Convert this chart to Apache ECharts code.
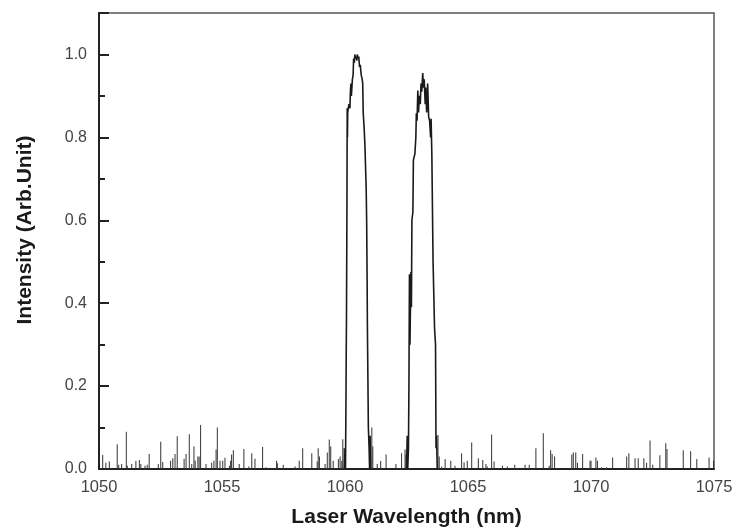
<!DOCTYPE html>
<html>
<head>
<meta charset="utf-8">
<script src="https://cdn.jsdelivr.net/npm/echarts@6/dist/echarts.min.js"></script>
<style>
  html, body { margin: 0; padding: 0; background: #fff; }
  #chart { width: 733px; height: 532px; }
</style>
</head>
<body>
<div id="chart"></div>
<script>
// Axis ticks
const xTicks = [1050, 1055, 1060, 1065, 1070, 1075];
const yTicks = [0.0, 0.2, 0.4, 0.6, 0.8, 1.0];

// Baseline noise spikes (wavelength in nm, intensity)
const noiseWl = [
  1050.15, 1050.28, 1050.42, 1050.74, 1050.80, 1050.92, 1051.11, 1051.15, 1051.33, 1051.50,
  1051.64, 1051.70, 1051.87, 1051.96, 1052.04, 1052.41, 1052.51, 1052.59, 1052.91, 1053.00,
  1053.09, 1053.18, 1053.46, 1053.54, 1053.67, 1053.77, 1053.86, 1053.91, 1054.02, 1054.07,
  1054.13, 1054.35, 1054.58, 1054.67, 1054.76, 1054.81, 1054.92, 1055.03, 1055.12, 1055.30,
  1055.35, 1055.39, 1055.46, 1055.70, 1055.89, 1056.09, 1056.21, 1056.34, 1056.65, 1056.79,
  1057.22, 1057.25, 1057.49, 1057.97, 1058.14, 1058.28, 1058.65, 1058.87, 1058.91, 1058.96,
  1059.19, 1059.28, 1059.36, 1059.42, 1059.52, 1059.73, 1059.80, 1059.87, 1059.91, 1059.96,
  1061.09, 1061.13, 1061.31, 1061.45, 1061.67, 1062.07, 1062.30, 1062.44, 1062.48,
  1063.78, 1063.83, 1063.93, 1064.07, 1064.30, 1064.47, 1064.74, 1064.84, 1064.97, 1065.15,
  1065.42, 1065.60, 1065.73, 1065.78, 1065.96, 1066.06, 1066.40, 1066.60, 1066.90,
  1067.32, 1067.49, 1067.76, 1068.06, 1068.30, 1068.36, 1068.42, 1068.52, 1069.22, 1069.28,
  1069.38, 1069.45, 1069.66, 1069.96, 1070.00, 1070.20, 1070.26, 1070.43, 1070.64, 1070.88,
  1071.45, 1071.54, 1071.79, 1071.92, 1072.15, 1072.26, 1072.40, 1072.51, 1072.80, 1073.04,
  1073.09, 1073.75, 1074.05, 1074.30, 1074.80, 1074.98
];
const noiseInt = [
  0.034, 0.015, 0.018, 0.060, 0.010, 0.012, 0.090, 0.008, 0.012, 0.019,
  0.022, 0.012, 0.008, 0.010, 0.036, 0.012, 0.066, 0.017, 0.020, 0.026,
  0.036, 0.079, 0.025, 0.036, 0.084, 0.012, 0.054, 0.020, 0.030, 0.030,
  0.106, 0.012, 0.015, 0.020, 0.047, 0.100, 0.020, 0.020, 0.027, 0.008,
  0.020, 0.035, 0.045, 0.012, 0.048, 0.006, 0.038, 0.025, 0.053, 0.004,
  0.020, 0.014, 0.010, 0.006, 0.020, 0.050, 0.038, 0.018, 0.050, 0.030,
  0.012, 0.040, 0.071, 0.054, 0.020, 0.024, 0.030, 0.020, 0.072, 0.050,
  0.100, 0.055, 0.012, 0.019, 0.035, 0.012, 0.038, 0.047, 0.035,
  0.082, 0.030, 0.006, 0.024, 0.020, 0.008, 0.038, 0.016, 0.020, 0.064,
  0.026, 0.022, 0.012, 0.006, 0.083, 0.018, 0.008, 0.006, 0.010,
  0.010, 0.010, 0.050, 0.086, 0.008, 0.045, 0.036, 0.030, 0.035, 0.040,
  0.040, 0.015, 0.036, 0.020, 0.020, 0.028, 0.020, 0.004, 0.004, 0.028,
  0.030, 0.038, 0.026, 0.026, 0.026, 0.015, 0.069, 0.010, 0.033, 0.062,
  0.048, 0.045, 0.043, 0.024, 0.028, 0.020
];

// First emission band (~1060.5 nm)
const peak1Wl = [
  1059.98, 1060.00, 1060.02, 1060.04, 1060.05, 1060.06, 1060.08, 1060.09, 1060.10, 1060.11,
  1060.16, 1060.20, 1060.22, 1060.24, 1060.26, 1060.30, 1060.33, 1060.35, 1060.38, 1060.40,
  1060.43, 1060.46, 1060.48, 1060.50, 1060.53, 1060.56, 1060.59, 1060.62, 1060.66, 1060.70,
  1060.72, 1060.74, 1060.78, 1060.81, 1060.86, 1060.88, 1060.90, 1060.91, 1060.95, 1060.98,
  1061.00, 1061.02, 1061.04
];
const peak1Int = [
  0.00, 0.05, 0.00, 0.17, 0.28, 0.36, 0.65, 0.87, 0.80, 0.86,
  0.88, 0.87, 0.91, 0.93, 0.90, 0.94, 0.95, 0.99, 0.98, 1.00,
  0.99, 0.995, 0.985, 1.00, 0.99, 0.995, 0.97, 0.975, 0.95, 0.94,
  0.93, 0.86, 0.82, 0.78, 0.68, 0.60, 0.45, 0.35, 0.10, 0.05,
  0.00, 0.08, 0.00
];

// Second emission band (~1063.2 nm)
const peak2Wl = [
  1062.50, 1062.53, 1062.55, 1062.58, 1062.60, 1062.62, 1062.64, 1062.68, 1062.70, 1062.72,
  1062.76, 1062.78, 1062.84, 1062.88, 1062.90, 1062.93, 1062.96, 1062.99, 1063.02, 1063.06,
  1063.09, 1063.12, 1063.16, 1063.19, 1063.22, 1063.26, 1063.28, 1063.32, 1063.36, 1063.40,
  1063.44, 1063.48, 1063.50, 1063.53, 1063.58, 1063.64, 1063.68, 1063.70, 1063.72, 1063.75
];
const peak2Int = [
  0.00, 0.08, 0.00, 0.05, 0.21, 0.47, 0.30, 0.475, 0.39, 0.60,
  0.62, 0.745, 0.76, 0.80, 0.858, 0.84, 0.913, 0.86, 0.90, 0.88,
  0.93, 0.91, 0.955, 0.92, 0.94, 0.88, 0.92, 0.86, 0.93, 0.85,
  0.84, 0.80, 0.845, 0.76, 0.50, 0.34, 0.30, 0.05, 0.08, 0.00
];

const pairs = (xs, ys) => xs.map((x, i) => [x, ys[i]]);

const chart = echarts.init(document.getElementById('chart'), null, { renderer: 'canvas' });

const axisColor = '#222';
const labelColor = '#444';
const font = 'Liberation Sans, Arial, Helvetica, sans-serif';

chart.setOption({
  animation: false,
  backgroundColor: '#ffffff',
  grid: {
    left: 99, right: 19, top: 13, bottom: 63,
    outerBoundsMode: 'none',
    containLabel: false,
    show: true,
    borderColor: '#555',
    borderWidth: 1.5,
    backgroundColor: 'transparent'
  },
  xAxis: {
    type: 'value',
    min: xTicks[0],
    max: xTicks[xTicks.length - 1],
    interval: 5,
    name: 'Laser Wavelength (nm)',
    nameLocation: 'middle',
    nameGap: 38,
    nameTextStyle: { color: '#1a1a1a', fontSize: 21, fontWeight: 'bold', fontFamily: font },
    axisLine: { show: true, onZero: false, lineStyle: { color: axisColor, width: 2 } },
    axisTick: { show: false },
    splitLine: { show: false },
    axisLabel: {
      color: labelColor, fontSize: 16.5, fontFamily: font, margin: 10,
      formatter: v => String(v)
    }
  },
  yAxis: {
    type: 'value',
    min: 0,
    max: 1.1,
    interval: 0.2,
    axisLine: { show: true, onZero: false, lineStyle: { color: axisColor, width: 2 } },
    axisTick: { show: true, inside: true, length: 10, lineStyle: { color: axisColor, width: 2 } },
    minorTick: { show: true, splitNumber: 2, length: 6, lineStyle: { color: axisColor, width: 2 } },
    splitLine: { show: false },
    minorSplitLine: { show: false },
    axisLabel: {
      color: labelColor, fontSize: 16, fontFamily: font, margin: 12,
      showMaxLabel: false,
      formatter: v => (yTicks.some(t => Math.abs(t - v) < 1e-6) ? v.toFixed(1) : '')
    }
  },
  graphic: [
    {
      // y-axis title, rotated to read bottom-to-top
      type: 'text',
      x: 25, y: 230,
      rotation: Math.PI / 2,
      style: {
        text: 'Intensity (Arb.Unit)',
        font: 'bold 21px ' + font,
        fill: '#1a1a1a',
        align: 'center',
        verticalAlign: 'middle'
      }
    }
  ],
  series: [
    {
      type: 'bar',
      data: pairs(noiseWl, noiseInt),
      barWidth: 1,
      itemStyle: { color: '#333' },
      silent: true
    },
    {
      type: 'line',
      data: pairs(peak1Wl, peak1Int),
      showSymbol: false,
      lineStyle: { color: '#1a1a1a', width: 1.6 },
      silent: true
    },
    {
      type: 'line',
      data: pairs(peak2Wl, peak2Int),
      showSymbol: false,
      lineStyle: { color: '#1a1a1a', width: 1.6 },
      silent: true
    }
  ]
});
</script>
</body>
</html>
